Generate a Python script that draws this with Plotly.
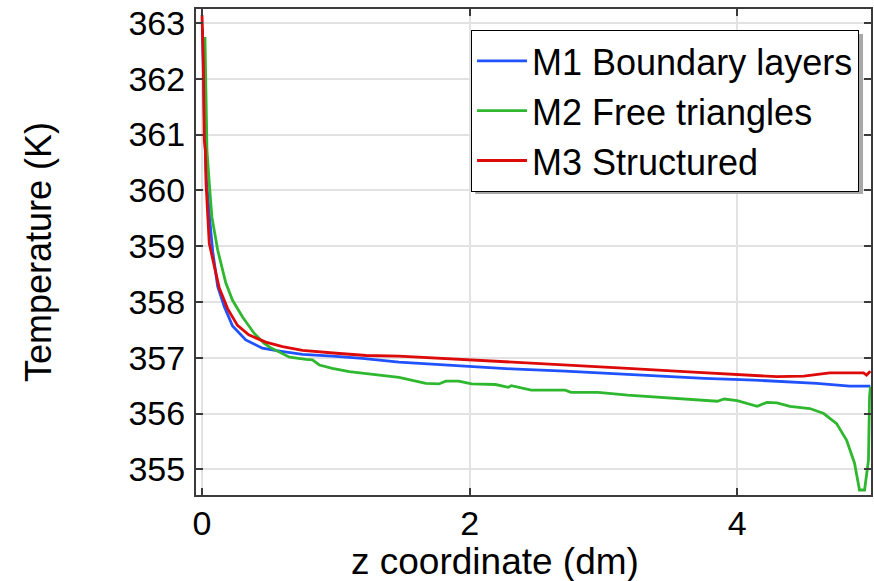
import plotly.graph_objects as go

# ---- data ----
series_names = ["M1 Boundary layers", "M2 Free triangles", "M3 Structured"]
series_colors = ["#2152ff", "#2fb82f", "#dd0a0a"]

z_m1 = [0.003, 0.019, 0.033, 0.050, 0.067, 0.080, 0.117, 0.166, 0.228, 0.327, 0.451, 0.580,
        0.751, 0.974, 1.197, 1.472, 1.896, 2.312, 2.714, 2.959, 3.182, 3.755, 4.126, 4.595,
        4.840, 4.995]
t_m1 = [362.90, 361.08, 360.18, 359.77, 359.23, 358.90, 358.28, 357.92, 357.57, 357.32, 357.17,
        357.12, 357.06, 357.03, 356.99, 356.92, 356.86, 356.80, 356.76, 356.73, 356.69, 356.63,
        356.60, 356.54, 356.49, 356.49]

z_m2 = [0.022, 0.035, 0.037, 0.054, 0.074, 0.117, 0.178, 0.228, 0.303, 0.389, 0.463, 0.506,
        0.654, 0.778, 0.825, 0.877, 0.974, 1.100, 1.227, 1.301, 1.472, 1.673, 1.770, 1.822,
        1.918, 2.015, 2.193, 2.290, 2.312, 2.461, 2.714, 2.758, 2.959, 3.182, 3.554, 3.851,
        3.903, 4.000, 4.149, 4.223, 4.297, 4.394, 4.543, 4.647, 4.743, 4.818, 4.877, 4.914,
        4.952, 4.981, 4.989, 4.996]
t_m2 = [362.75, 361.29, 360.72, 360.13, 359.52, 358.93, 358.34, 358.03, 357.73, 357.44, 357.26,
        357.19, 357.01, 356.97, 356.96, 356.87, 356.81, 356.75, 356.72, 356.69, 356.65, 356.54,
        356.53, 356.58, 356.58, 356.53, 356.52, 356.47, 356.50, 356.42, 356.42, 356.38, 356.38,
        356.33, 356.27, 356.22, 356.26, 356.23, 356.13, 356.20, 356.19, 356.13, 356.09, 356.00,
        355.82, 355.52, 355.11, 354.63, 354.63, 355.16, 356.30, 356.48]

z_m3 = [0.000, 0.010, 0.017, 0.025, 0.030, 0.042, 0.054, 0.091, 0.129, 0.191, 0.265, 0.349,
        0.476, 0.602, 0.751, 1.004, 1.227, 1.472, 1.866, 2.089, 2.513, 2.959, 3.182, 3.606,
        4.000, 4.297, 4.498, 4.691, 4.944, 4.967, 4.995]
t_m3 = [363.14, 362.30, 360.90, 360.72, 360.13, 359.52, 359.05, 358.65, 358.25, 357.88, 357.58,
        357.41, 357.28, 357.20, 357.13, 357.08, 357.04, 357.03, 356.98, 356.95, 356.90, 356.85,
        356.81, 356.75, 356.70, 356.66, 356.67, 356.73, 356.73, 356.69, 356.76]

x_ticks = [0, 2, 4]
y_ticks = [355, 356, 357, 358, 359, 360, 361, 362, 363]
x_range = [-0.045, 5.0]
y_range = [354.54, 363.25]
x_title = "z coordinate (dm)"
y_title = "Temperature (K)"

FONT = "Liberation Sans, Arial, Helvetica, sans-serif"

fig = go.Figure()
for name, color, xs, ys in [
    (series_names[0], series_colors[0], z_m1, t_m1),
    (series_names[1], series_colors[1], z_m2, t_m2),
    (series_names[2], series_colors[2], z_m3, t_m3),
]:
    fig.add_trace(go.Scatter(x=xs, y=ys, mode="lines", name=name, legendgroup=name,
                             line=dict(color=color, width=2.8)))

axis_common = dict(
    showline=True, linecolor="#3a3a3a", linewidth=2, mirror="ticks",
    ticks="inside", ticklen=7, tickwidth=2, tickcolor="#3a3a3a",
    showgrid=True, gridcolor="#e2e2e2", gridwidth=1.5, zeroline=False,
    tickfont=dict(family=FONT, size=34, color="black"),
)

fig.update_xaxes(range=x_range, tickvals=x_ticks, ticklabelstandoff=-3, **axis_common)
fig.update_yaxes(range=y_range, tickvals=y_ticks, ticklabelstandoff=2,
                 title=dict(text=y_title, font=dict(family=FONT, size=36, color="black"),
                            standoff=66),
                 **axis_common)

L, T, W, H = 196, 9, 677, 486
def px_x(p): return (p - L) / W
def px_y(p): return (T + H - p) / H

# x-axis title, placed as in the reference
fig.add_annotation(text=x_title, xref="paper", yref="paper", x=px_x(496), y=px_y(561),
                   xanchor="center", yanchor="middle", showarrow=False,
                   font=dict(family=FONT, size=37, color="black"))

# legend drop shadow (decoration)
fig.add_shape(type="rect", xref="paper", yref="paper", layer="above",
              x0=px_x(476), x1=px_x(865), y0=px_y(194), y1=px_y(34),
              fillcolor="#a8a8a8", line=dict(width=0))

fig.update_layout(
    width=874, height=581,
    margin=dict(l=196, r=1, t=9, b=86),
    paper_bgcolor="white", plot_bgcolor="white",
    font=dict(family=FONT, color="black"),
    showlegend=True,
    legend=dict(x=px_x(861), xanchor="right", y=px_y(30), yanchor="top",
                bgcolor="white", bordercolor="black", borderwidth=1,
                font=dict(family=FONT, size=36, color="black"),
                itemwidth=50, tracegroupgap=3, traceorder="normal"),
)

fig.write_html("out.html")
